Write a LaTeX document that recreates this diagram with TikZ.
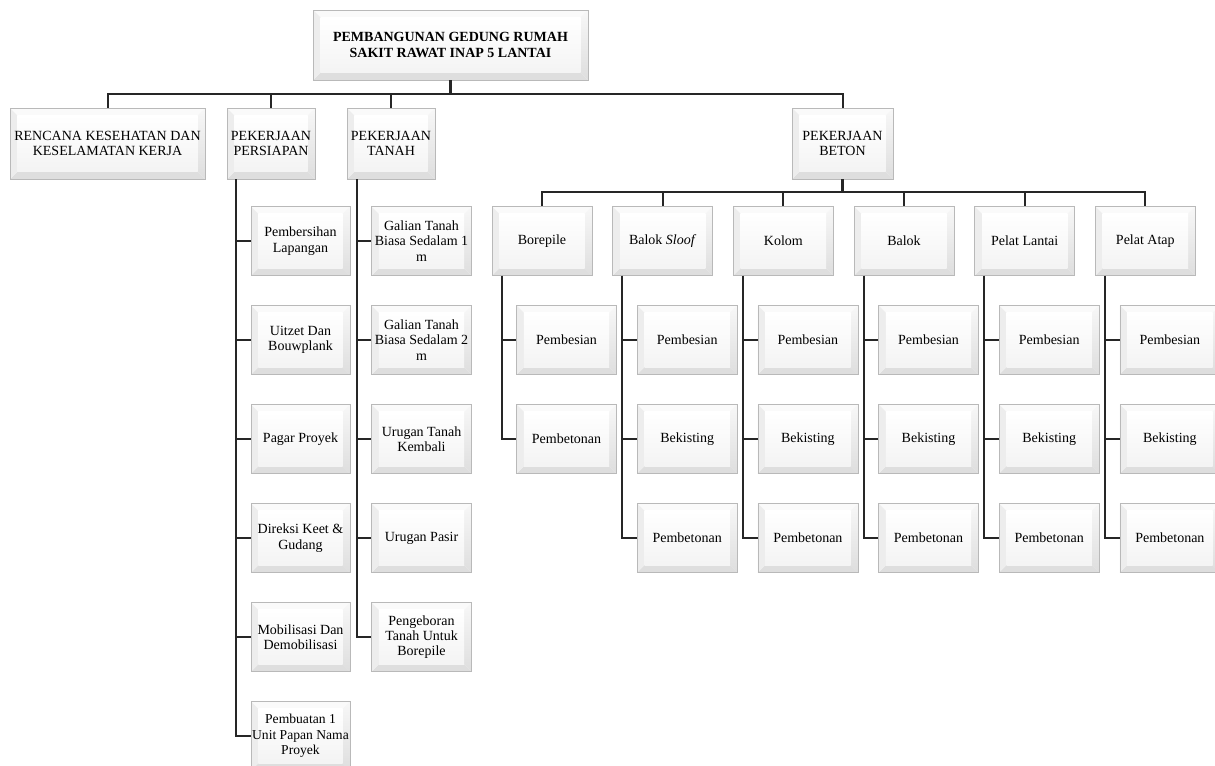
\documentclass[tikz,border=0pt]{standalone}
\usepackage{fontspec}
\setmainfont{Liberation Serif}
\usetikzlibrary{positioning}

\begin{document}
\begin{tikzpicture} [x=0.75pt, y=-0.75pt,
  bevel/.style={draw=gray!55, fill=white, line width=0.5pt, align=center, inner sep=0.5pt,
    font=\fontsize{10.5}{11.5}\selectfont,
    path picture={
      \fill[gray!4] (path picture bounding box.north west) -- (path picture bounding box.north east)
        -- ([shift={(-5.5pt,-5.5pt)}]path picture bounding box.north east)
        -- ([shift={(5.5pt,-5.5pt)}]path picture bounding box.north west) -- cycle;
      \fill[gray!26] (path picture bounding box.south west) -- (path picture bounding box.south east)
        -- ([shift={(-5.5pt,5.5pt)}]path picture bounding box.south east)
        -- ([shift={(5.5pt,5.5pt)}]path picture bounding box.south west) -- cycle;
      \fill[gray!14] (path picture bounding box.north west) -- ([shift={(5.5pt,-5.5pt)}]path picture bounding box.north west)
        -- ([shift={(5.5pt,5.5pt)}]path picture bounding box.south west) -- (path picture bounding box.south west) -- cycle;
      \shade[top color=gray!6, bottom color=gray!26] (path picture bounding box.north east)
        -- ([shift={(-5.5pt,-5.5pt)}]path picture bounding box.north east)
        -- ([shift={(-5.5pt,5.5pt)}]path picture bounding box.south east) -- (path picture bounding box.south east) -- cycle;
      \shade[top color=white, bottom color=gray!9] ([shift={(5.5pt,-5.5pt)}]path picture bounding box.north west)
        rectangle ([shift={(-5.5pt,5.5pt)}]path picture bounding box.south east);
    }},
  topbox/.style={bevel, minimum width=206pt, minimum height=52.5pt, font=\bfseries\fontsize{10.5}{12}\selectfont},
  headbox/.style={bevel, minimum width=66pt, minimum height=53.25pt},
  itembox/.style={bevel, minimum width=75pt, minimum height=51.75pt},
  link/.style={draw=black!85, line width=1.5pt}]

\useasboundingbox (0,0) rectangle (1215,765);

\node [topbox] (root) at (450.5,45) {PEMBANGUNAN GEDUNG RUMAH\\SAKIT RAWAT INAP 5 LANTAI};

\node [headbox, minimum width=146.25pt] (rk) at (107.5,143.5) {RENCANA KESEHATAN DAN\\KESELAMATAN KERJA};
\node [headbox] (ps) at (271,143.5) {PEKERJAAN\\PERSIAPAN};
\node [headbox] (ts) at (391,143.5) {PEKERJAAN\\TANAH};
\node [headbox, minimum width=75.75pt] (bt) at (842.5,143.5) {PEKERJAAN\\BETON};

\node [itembox, minimum width=74.25pt] (ps1) at (300.5,241) {Pembersihan\\Lapangan};
\node [itembox, minimum width=74.25pt, below=22pt of ps1] (ps2) {Uitzet Dan\\Bouwplank};
\node [itembox, minimum width=74.25pt, below=22pt of ps2] (ps3) {Pagar Proyek};
\node [itembox, minimum width=74.25pt, below=22pt of ps3] (ps4) {Direksi Keet \&\\Gudang};
\node [itembox, minimum width=74.25pt, below=22pt of ps4] (ps5) {Mobilisasi Dan\\Demobilisasi};
\node [itembox, minimum width=74.25pt, below=22pt of ps5, font=\fontsize{10.2}{11.5}\selectfont] (ps6) {Pembuatan 1\\Unit Papan Nama\\Proyek};

\node [itembox] (ts1) at (421.5,241) {Galian Tanah\\Biasa Sedalam 1\\m};
\node [itembox, below=22pt of ts1] (ts2) {Galian Tanah\\Biasa Sedalam 2\\m};
\node [itembox, below=22pt of ts2] (ts3) {Urugan Tanah\\Kembali};
\node [itembox, below=22pt of ts3] (ts4) {Urugan Pasir};
\node [itembox, below=22pt of ts4] (ts5) {Pengeboran\\Tanah Untuk\\Borepile};

\node [itembox] (b1) at (542,241) {Borepile};
\node [itembox, right=15pt of b1] (b2) {Balok \textit{Sloof}};
\node [itembox, right=15pt of b2] (b3) {Kolom};
\node [itembox, right=15pt of b3] (b4) {Balok};
\node [itembox, right=15pt of b4] (b5) {Pelat Lantai};
\node [itembox, right=15pt of b5] (b6) {Pelat Atap};

\node [itembox, below=22pt of b1, xshift=18.4pt] (b11) {Pembesian};
\node [itembox, below=22pt of b11] (b12) {Pembetonan};

\node [itembox, below=22pt of b2, xshift=18.4pt] (b21) {Pembesian};
\node [itembox, below=22pt of b21] (b22) {Bekisting};
\node [itembox, below=22pt of b22] (b23) {Pembetonan};

\node [itembox, below=22pt of b3, xshift=18.4pt] (b31) {Pembesian};
\node [itembox, below=22pt of b31] (b32) {Bekisting};
\node [itembox, below=22pt of b32] (b33) {Pembetonan};

\node [itembox, below=22pt of b4, xshift=18.4pt] (b41) {Pembesian};
\node [itembox, below=22pt of b41] (b42) {Bekisting};
\node [itembox, below=22pt of b42] (b43) {Pembetonan};

\node [itembox, below=22pt of b5, xshift=18.4pt] (b51) {Pembesian};
\node [itembox, below=22pt of b51] (b52) {Bekisting};
\node [itembox, below=22pt of b52] (b53) {Pembetonan};

\node [itembox, below=22pt of b6, xshift=18.4pt] (b61) {Pembesian};
\node [itembox, below=22pt of b61] (b62) {Bekisting};
\node [itembox, below=22pt of b62] (b63) {Pembetonan};

% root branches
\draw [link, line width=2.2pt] (root.south) -- ++(0,14);
\draw [link] (root.south) -- ++(0,14) -| (rk.north);
\draw [link] (root.south) -- ++(0,14) -| (ps.north);
\draw [link] (root.south) -- ++(0,14) -| (ts.north);
\draw [link] (root.south) -- ++(0,14) -| (bt.north);

% persiapan and tanah
\draw [link] ([xshift=6.75pt]ps.south west) |- (ps1.west);
\draw [link] ([xshift=6.75pt]ps.south west) |- (ps2.west);
\draw [link] ([xshift=6.75pt]ps.south west) |- (ps3.west);
\draw [link] ([xshift=6.75pt]ps.south west) |- (ps4.west);
\draw [link] ([xshift=6.75pt]ps.south west) |- (ps5.west);
\draw [link] ([xshift=6.75pt]ps.south west) |- (ps6.west);

\draw [link] ([xshift=7.5pt]ts.south west) |- (ts1.west);
\draw [link] ([xshift=7.5pt]ts.south west) |- (ts2.west);
\draw [link] ([xshift=7.5pt]ts.south west) |- (ts3.west);
\draw [link] ([xshift=7.5pt]ts.south west) |- (ts4.west);
\draw [link] ([xshift=7.5pt]ts.south west) |- (ts5.west);

% beton
\draw [link, line width=2pt] (bt.south) -- ++(0,13);
\draw [link] (bt.south) -- ++(0,13) -| (b1.north);
\draw [link] (bt.south) -- ++(0,13) -| (b2.north);
\draw [link] (bt.south) -- ++(0,13) -| (b3.north);
\draw [link] (bt.south) -- ++(0,13) -| (b4.north);
\draw [link] (bt.south) -- ++(0,13) -| (b5.north);
\draw [link] (bt.south) -- ++(0,13) -| (b6.north);

\draw [link] ([xshift=7.5pt]b1.south west) |- (b11.west);
\draw [link] ([xshift=7.5pt]b1.south west) |- (b12.west);
\draw [link] ([xshift=7.5pt]b2.south west) |- (b21.west);
\draw [link] ([xshift=7.5pt]b2.south west) |- (b22.west);
\draw [link] ([xshift=7.5pt]b2.south west) |- (b23.west);
\draw [link] ([xshift=7.5pt]b3.south west) |- (b31.west);
\draw [link] ([xshift=7.5pt]b3.south west) |- (b32.west);
\draw [link] ([xshift=7.5pt]b3.south west) |- (b33.west);
\draw [link] ([xshift=7.5pt]b4.south west) |- (b41.west);
\draw [link] ([xshift=7.5pt]b4.south west) |- (b42.west);
\draw [link] ([xshift=7.5pt]b4.south west) |- (b43.west);
\draw [link] ([xshift=7.5pt]b5.south west) |- (b51.west);
\draw [link] ([xshift=7.5pt]b5.south west) |- (b52.west);
\draw [link] ([xshift=7.5pt]b5.south west) |- (b53.west);
\draw [link] ([xshift=7.5pt]b6.south west) |- (b61.west);
\draw [link] ([xshift=7.5pt]b6.south west) |- (b62.west);
\draw [link] ([xshift=7.5pt]b6.south west) |- (b63.west);

\end{tikzpicture}
\end{document}
